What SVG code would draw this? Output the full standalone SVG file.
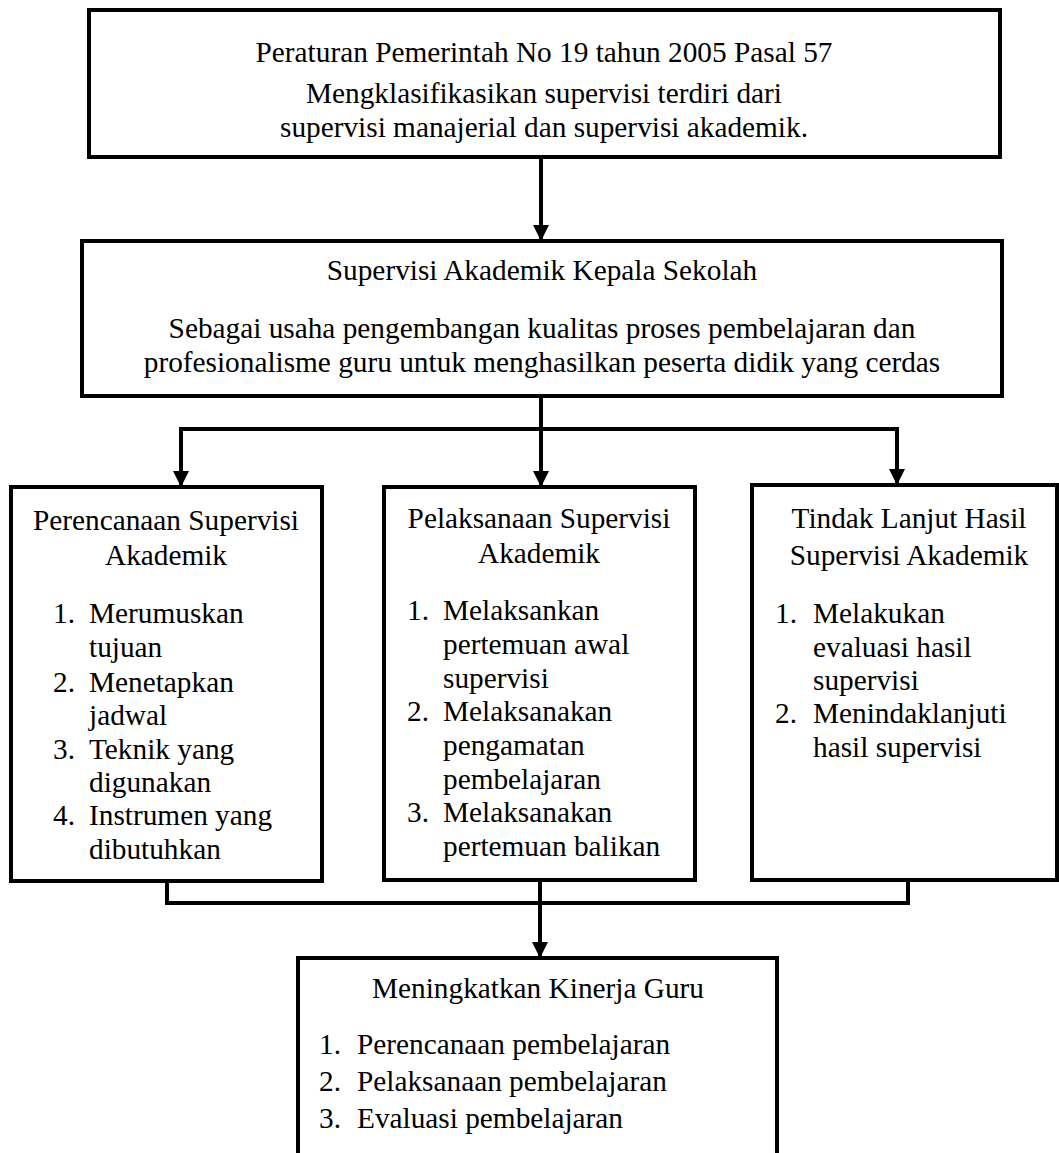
<svg xmlns="http://www.w3.org/2000/svg" width="1059" height="1153" viewBox="0 0 1059 1153">
<style>
  .box{fill:#fff;stroke:#000;stroke-width:4}
  .t{font-family:"Liberation Serif","Times New Roman",serif;font-size:29.3px;fill:#000}
  .c{text-anchor:middle}
  .ln{fill:none;stroke:#000;stroke-width:4}
</style>
<defs>
  <marker id="ah" markerUnits="userSpaceOnUse" markerWidth="18" markerHeight="16" refX="16" refY="8" orient="auto">
    <path d="M0,0 L16,8 L0,16 Z" fill="#000"/>
  </marker>
</defs>
<rect width="1059" height="1153" fill="#fff"/>
<g id="connectors">
  <path class="ln" d="M541,157 V241" marker-end="url(#ah)"/>
  <path class="ln" d="M541,396 V487" marker-end="url(#ah)"/>
  <path class="ln" d="M181,429 H897"/>
  <path class="ln" d="M181,427 V487" marker-end="url(#ah)"/>
  <path class="ln" d="M897,427 V485" marker-end="url(#ah)"/>
  <path class="ln" d="M167,881 V903 H908 V880"/>
  <path class="ln" d="M540,880 V958" marker-end="url(#ah)"/>
</g>
<g id="node-pp">
  <rect class="box" x="89" y="10" width="911" height="147"/>
  <text class="t c" x="544" y="62">Peraturan Pemerintah No 19 tahun 2005 Pasal 57</text>
  <text class="t c" x="544" y="103">Mengklasifikasikan supervisi terdiri dari</text>
  <text class="t c" x="544" y="137">supervisi manajerial dan supervisi akademik.</text>
</g>
<g id="node-supervisi">
  <rect class="box" x="82" y="241" width="920" height="155"/>
  <text class="t c" x="542" y="280">Supervisi Akademik Kepala Sekolah</text>
  <text class="t c" x="542" y="338">Sebagai usaha pengembangan kualitas proses pembelajaran dan</text>
  <text class="t c" x="542" y="372">profesionalisme guru untuk menghasilkan peserta didik yang cerdas</text>
</g>
<g id="node-perencanaan">
  <rect class="box" x="11" y="487" width="311" height="394"/>
  <text class="t c" x="166" y="530">Perencanaan Supervisi</text>
  <text class="t c" x="166" y="565">Akademik</text>
  <text class="t" x="53" y="623">1.</text><text class="t" x="89" y="623">Merumuskan</text>
  <text class="t" x="89" y="657">tujuan</text>
  <text class="t" x="53" y="692">2.</text><text class="t" x="89" y="692">Menetapkan</text>
  <text class="t" x="89" y="725">jadwal</text>
  <text class="t" x="53" y="759">3.</text><text class="t" x="89" y="759">Teknik yang</text>
  <text class="t" x="89" y="792">digunakan</text>
  <text class="t" x="53" y="825">4.</text><text class="t" x="89" y="825">Instrumen yang</text>
  <text class="t" x="89" y="859">dibutuhkan</text>
</g>
<g id="node-pelaksanaan">
  <rect class="box" x="384" y="487" width="311" height="393"/>
  <text class="t c" x="539" y="528">Pelaksanaan Supervisi</text>
  <text class="t c" x="539" y="563">Akademik</text>
  <text class="t" x="407" y="620">1.</text><text class="t" x="443" y="620">Melaksankan</text>
  <text class="t" x="443" y="654">pertemuan awal</text>
  <text class="t" x="443" y="688">supervisi</text>
  <text class="t" x="407" y="721">2.</text><text class="t" x="443" y="721">Melaksanakan</text>
  <text class="t" x="443" y="755">pengamatan</text>
  <text class="t" x="443" y="789">pembelajaran</text>
  <text class="t" x="407" y="822">3.</text><text class="t" x="443" y="822">Melaksanakan</text>
  <text class="t" x="443" y="856">pertemuan balikan</text>
</g>
<g id="node-tindaklanjut">
  <rect class="box" x="752" y="485" width="305" height="395"/>
  <text class="t c" x="909" y="528">Tindak Lanjut Hasil</text>
  <text class="t c" x="909" y="565">Supervisi Akademik</text>
  <text class="t" x="775" y="623">1.</text><text class="t" x="813" y="623">Melakukan</text>
  <text class="t" x="813" y="657">evaluasi hasil</text>
  <text class="t" x="813" y="690">supervisi</text>
  <text class="t" x="775" y="723">2.</text><text class="t" x="813" y="723">Menindaklanjuti</text>
  <text class="t" x="813" y="757">hasil supervisi</text>
</g>
<g id="node-kinerja">
  <rect class="box" x="298" y="958" width="479" height="210"/>
  <text class="t c" x="538" y="998">Meningkatkan Kinerja Guru</text>
  <text class="t" x="319" y="1054">1.</text><text class="t" x="357" y="1054">Perencanaan pembelajaran</text>
  <text class="t" x="319" y="1091">2.</text><text class="t" x="357" y="1091">Pelaksanaan pembelajaran</text>
  <text class="t" x="319" y="1128">3.</text><text class="t" x="357" y="1128">Evaluasi pembelajaran</text>
</g>
</svg>
